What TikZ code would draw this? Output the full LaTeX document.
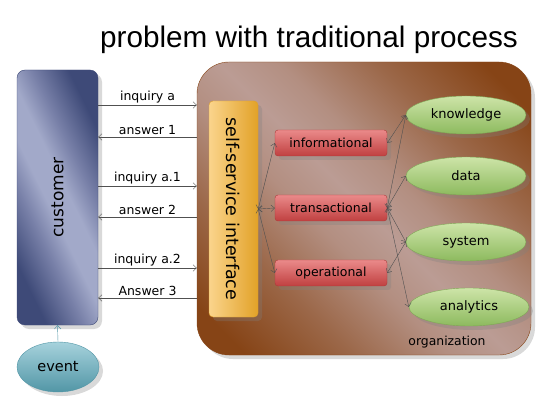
\documentclass[tikz,border=0pt]{standalone}
\usepackage{fontspec}
\usetikzlibrary{shapes.geometric,shadows,arrows.meta}
\newfontfamily\labelfont{DejaVu Sans}
\newfontfamily\titlefont{Liberation Sans}

\definecolor{custdark}{HTML}{3E4A78}
\definecolor{custlight}{HTML}{A2A9C9}
\definecolor{custmid}{HTML}{7880A8}
\definecolor{orginner}{HTML}{BB9C94}
\definecolor{orgouter}{HTML}{864416}
\definecolor{ifdark}{HTML}{E2A228}
\definecolor{iflight}{HTML}{FAD48C}
\definecolor{redtop}{HTML}{EA8A8A}
\definecolor{redbot}{HTML}{C04040}
\definecolor{greentop}{HTML}{CDE4A8}
\definecolor{greenbot}{HTML}{8DBA5E}
\definecolor{teallight}{HTML}{A6D2DC}
\definecolor{tealdark}{HTML}{5296A6}
\definecolor{linkgray}{HTML}{505050}

\pgfdeclareverticalshading{orgshade}{100bp}{%
  color(0bp)=(orgouter); color(20bp)=(orgouter); color(32bp)=(orginner!40!orgouter);
  color(43bp)=(orginner!85!orgouter); color(50bp)=(orginner); color(57bp)=(orginner!85!orgouter);
  color(68bp)=(orginner!40!orgouter); color(80bp)=(orgouter); color(100bp)=(orgouter)}
\pgfdeclareverticalshading{custshade}{100bp}{%
  color(0bp)=(custdark); color(26bp)=(custdark); color(38bp)=(custmid);
  color(46bp)=(custlight); color(54bp)=(custlight); color(62bp)=(custmid);
  color(74bp)=(custdark); color(100bp)=(custdark)}

\tikzset{
  >={Straight Barb[length=3.5pt,width=6.5pt]},
  shadowed/.style={drop shadow={shadow xshift=4pt, shadow yshift=-4pt, opacity=0.3}},
  taskbox/.style={shadowed, draw=redbot!90!black, top color=redtop, bottom color=redbot,
    rounded corners=3pt, minimum width=112pt, minimum height=26pt, inner sep=0pt,
    font=\labelfont\fontsize{12.5}{14}\selectfont},
  resource/.style={shadowed, ellipse, draw=greenbot!90!black, top color=greentop, bottom color=greenbot,
    minimum width=120pt, minimum height=38pt, inner sep=0pt,
    font=\labelfont\fontsize{13}{15}\selectfont},
  link/.style={<->, linkgray, thin},
  msg/.style={linkgray, thin},
  msglabel/.style={midway, above, inner sep=2pt, text=black, font=\labelfont\fontsize{12.5}{14}\selectfont}
}

\begin{document}
\begin{tikzpicture}[x=1pt, y=-1pt]
\useasboundingbox (0,0) rectangle (538,403);

\node (title) at (309,40) {\titlefont\fontsize{29.7}{32}\selectfont problem with traditional process};

\node (org) [shadowed, draw=orgouter, shading=orgshade, shading angle=135, rounded corners=32pt,
  minimum width=334pt, minimum height=293pt] at (364,208.5) {};
\node (orglabel) at (447,342) {\labelfont\fontsize{12.4}{14}\selectfont organization};

\node (cust) [shadowed, rotate=90, draw=custdark, shading=custshade, shading angle=116,
  rounded corners=8pt, minimum width=255pt, minimum height=81pt,
  font=\labelfont\fontsize{17}{19}\selectfont] at (57.5,197.5) {customer};

\node (event) [shadowed, ellipse, draw=tealdark, top color=teallight, bottom color=tealdark,
  minimum width=82pt, minimum height=50pt, font=\labelfont\fontsize{14.5}{16}\selectfont] at (58,367) {event};

\node (iface) [shadowed, rotate=-90, draw=ifdark, left color=iflight, right color=ifdark,
  rounded corners=4pt, minimum width=216pt, minimum height=49pt,
  font=\labelfont\fontsize{17.5}{19}\selectfont] at (233.5,209) {self-service interface};

\node (info) [taskbox] at (331,143) {informational};
\node (trans) [taskbox] at (331,208) {transactional};
\node (oper) [taskbox] at (331,273) {operational};

\node (know) [resource] at (466,115) {knowledge};
\node (data) [resource] at (466,176) {data};
\node (sys) [resource] at (466,242) {system};
\node (anly) [resource] at (469,307) {analytics};

\draw [->, tealdark] (event.north) -- (cust.west);

\draw [msg, ->] (cust.south |- 0,105) -- (org.west |- 0,105) node [msglabel] {inquiry a};
\draw [msg, <-] (cust.south |- 0,137) -- (org.west |- 0,137) node [msglabel] {answer 1};
\draw [msg, ->] (cust.south |- 0,186) -- (org.west |- 0,186) node [msglabel] {inquiry a.1};
\draw [msg, <-] (cust.south |- 0,217) -- (org.west |- 0,217) node [msglabel] {answer 2};
\draw [msg, ->] (cust.south |- 0,268) -- (org.west |- 0,268) node [msglabel] {inquiry a.2};
\draw [msg, <-] (cust.south |- 0,298) -- (org.west |- 0,298) node [msglabel] {Answer 3};

\draw [link] (iface.north) -- (info.west);
\draw [link] (iface.north) -- (trans.west);
\draw [link] (iface.north) -- (oper.west);

\draw [link] (info.east) -- (know.west);
\draw [link] (trans.east) -- (know.west);
\draw [link] (trans.east) -- (data.west);
\draw [link] (trans.east) -- (sys.west);
\draw [link] (trans.east) -- (anly.west);
\draw [link] (oper.east) -- (sys.west);
\end{tikzpicture}
\end{document}
